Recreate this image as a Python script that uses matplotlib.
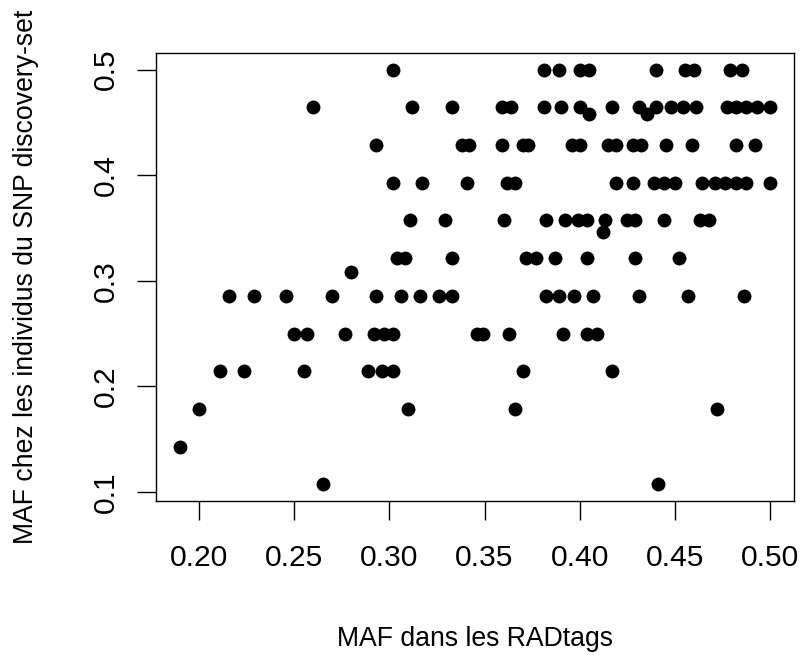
import numpy as np
import matplotlib
matplotlib.use("Agg")
from matplotlib import pyplot as plt

plt.rcParams["font.family"] = ["Liberation Sans", "DejaVu Sans"]

# MAF in the discovery set comes in steps of 1/28, so points are grouped by row
y_levels = [14/28, 13/28, 12/28, 11/28, 10/28, 9/28, 8/28, 7/28, 6/28, 5/28, 4/28, 3/28]
x_050 = [0.302, 0.381, 0.389, 0.400, 0.405, 0.440, 0.455, 0.460, 0.479, 0.485]
x_046 = [0.260, 0.312, 0.333, 0.359, 0.364, 0.381, 0.390, 0.400, 0.417, 0.431,
         0.440, 0.448, 0.454, 0.461, 0.477, 0.482, 0.487, 0.493, 0.500]
x_043 = [0.293, 0.338, 0.342, 0.359, 0.370, 0.373, 0.396, 0.400, 0.415, 0.419,
         0.428, 0.432, 0.445, 0.459, 0.482, 0.492]
x_039 = [0.302, 0.317, 0.341, 0.362, 0.366, 0.419, 0.428, 0.439, 0.444, 0.450,
         0.464, 0.471, 0.476, 0.482, 0.487, 0.500]
x_036 = [0.311, 0.329, 0.360, 0.382, 0.392, 0.399, 0.404, 0.413, 0.425, 0.429,
         0.444, 0.463, 0.468]
x_032 = [0.304, 0.308, 0.333, 0.372, 0.377, 0.387, 0.404, 0.429, 0.452]
x_029 = [0.216, 0.229, 0.246, 0.270, 0.293, 0.306, 0.316, 0.326, 0.333, 0.382,
         0.389, 0.397, 0.407, 0.431, 0.457, 0.486]
x_025 = [0.250, 0.257, 0.277, 0.292, 0.297, 0.302, 0.346, 0.349, 0.363, 0.391,
         0.404, 0.409]
x_021 = [0.211, 0.224, 0.255, 0.289, 0.296, 0.302, 0.370, 0.417]
x_018 = [0.200, 0.310, 0.366, 0.472]
x_014 = [0.190]
x_011 = [0.265, 0.441]
rows = [x_050, x_046, x_043, x_039, x_036, x_032, x_029, x_025, x_021, x_018, x_014, x_011]

# a few points off the 1/28 grid
extra_x = [0.405, 0.435, 0.412, 0.280]
extra_y = [0.458, 0.458, 0.346, 0.308]

maf_rad = np.concatenate([np.array(r) for r in rows] + [np.array(extra_x)])
maf_snp = np.concatenate([np.full(len(r), lv) for r, lv in zip(rows, y_levels)] + [np.array(extra_y)])

fig = plt.figure(figsize=(8.03, 6.57), dpi=100)
ax = fig.add_axes([0.1943, 0.2374, 0.7945, 0.6819])
ax.scatter(maf_rad, maf_snp, s=100, c="black", linewidths=0, zorder=3)

# R style limits: data range plus 4 % on each side
xr = maf_rad.max() - maf_rad.min()
yr = maf_snp.max() - maf_snp.min()
ax.set_xlim(maf_rad.min() - 0.04*xr, maf_rad.max() + 0.04*xr)
ax.set_ylim(maf_snp.min() - 0.04*yr, maf_snp.max() + 0.04*yr)

xt = [0.20, 0.25, 0.30, 0.35, 0.40, 0.45, 0.50]
yt = [0.1, 0.2, 0.3, 0.4, 0.5]
ax.set_xticks(xt)
ax.set_xticklabels(["%.2f" % v for v in xt])
ax.set_yticks(yt)
ax.set_yticklabels(["%.1f" % v for v in yt], rotation=90, va="center")

for sp in ax.spines.values():
    sp.set_linewidth(1.0)
    sp.set_color("black")
ax.tick_params(axis="both", direction="out", length=13.7, width=1.0,
               labelsize=21.6, colors="black")
ax.tick_params(axis="x", pad=17)
ax.tick_params(axis="y", pad=12)

ax.set_xlabel("MAF dans les RADtags", fontsize=19.2)
ax.xaxis.set_label_coords(0.5, -0.308)
ax.xaxis.label.set_va("center")
ax.set_ylabel("MAF chez les individus du SNP discovery-set", fontsize=19.2)
ax.yaxis.set_label_coords(-0.204, 0.5)
ax.yaxis.label.set_va("center")

fig.savefig("out.png", dpi=100)
